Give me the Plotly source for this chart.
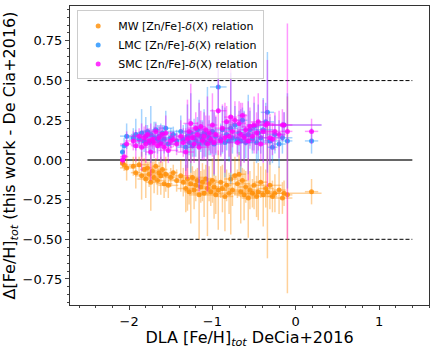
import plotly.graph_objects as go

# DLA [Fe/H]_tot (De Cia+2016) and its error, shared by the three relations
fe_h = [-2.08, -2.06, -2.03, -1.95, -1.92, -1.88, -1.85, -1.82, -1.80, -1.78,
        -1.76, -1.74, -1.72, -1.70, -1.68, -1.66, -1.64, -1.62, -1.60, -1.58,
        -1.56, -1.53, -1.50, -1.47, -1.43, -1.38, -1.35, -1.32, -1.30, -1.28,
        -1.26, -1.24, -1.22, -1.20, -1.18, -1.16, -1.14, -1.12, -1.10, -1.08,
        -1.06, -1.04, -1.02, -1.00, -0.98, -0.96, -0.93, -0.90, -0.88, -0.85,
        -0.83, -0.80, -0.78, -0.76, -0.73, -0.70, -0.68, -0.66, -0.64, -0.62,
        -0.60, -0.57, -0.55, -0.52, -0.50, -0.47, -0.45, -0.42, -0.39, -0.36,
        -0.34, -0.31, -0.28, -0.25, -0.20, -0.16, -0.14, -0.10, 0.19]
fe_h_err = [0.03, 0.05, 0.08, 0.10, 0.06, 0.12, 0.08, 0.05, 0.10, 0.07,
            0.15, 0.06, 0.09, 0.12, 0.05, 0.10, 0.08, 0.14, 0.06, 0.10,
            0.08, 0.12, 0.07, 0.05, 0.10, 0.15, 0.08, 0.10, 0.12, 0.06,
            0.09, 0.18, 0.07, 0.10, 0.08, 0.12, 0.06, 0.09, 0.20, 0.07,
            0.10, 0.08, 0.12, 0.06, 0.10, 0.08, 0.10, 0.07, 0.09, 0.10,
            0.06, 0.12, 0.08, 0.10, 0.07, 0.15, 0.08, 0.10, 0.06, 0.12,
            0.09, 0.08, 0.10, 0.14, 0.07, 0.20, 0.09, 0.08, 0.12, 0.10,
            0.08, 0.14, 0.06, 0.10, 0.08, 0.12, 0.45, 0.06, 0.08]

# Delta [Fe/H]_tot (this work - De Cia+2016)
mw = [-0.02, -0.03, -0.05, -0.04, -0.08, -0.03, -0.10, -0.06, -0.12, -0.05,
      -0.09, -0.14, -0.07, -0.11, -0.04, -0.13, -0.08, -0.10, -0.06, -0.15,
      -0.09, -0.16, -0.11, -0.08, -0.13, -0.10, -0.14, -0.18, -0.12, -0.20,
      -0.15, -0.11, -0.19, -0.16, -0.13, -0.22, -0.17, -0.14, -0.21, -0.12,
      -0.18, -0.15, -0.20, -0.13, -0.17, -0.22, -0.19, -0.14, -0.18, -0.23,
      -0.16, -0.21, -0.12, -0.19, -0.10, -0.15, -0.09, -0.20, -0.13, -0.22,
      -0.17, -0.24, -0.19, -0.21, -0.16, -0.23, -0.20, -0.14, -0.22, -0.18,
      -0.20, -0.16, -0.23, -0.21, -0.19, -0.24, -0.21, -0.22, -0.20]
mw_err = [0.03, 0.04, 0.08, 0.06, 0.10, 0.05, 0.15, 0.07, 0.12, 0.04,
          0.08, 0.18, 0.06, 0.10, 0.05, 0.09, 0.07, 0.12, 0.05, 0.09,
          0.11, 0.08, 0.06, 0.05, 0.07, 0.10, 0.09, 0.15, 0.20, 0.08,
          0.25, 0.07, 0.12, 0.10, 0.08, 0.28, 0.10, 0.12, 0.15, 0.09,
          0.30, 0.11, 0.09, 0.14, 0.20, 0.12, 0.25, 0.10, 0.15, 0.22,
          0.10, 0.13, 0.35, 0.10, 0.12, 0.09, 0.14, 0.20, 0.08, 0.16,
          0.10, 0.25, 0.12, 0.09, 0.15, 0.13, 0.18, 0.10, 0.20, 0.12,
          0.42, 0.15, 0.10, 0.12, 0.15, 0.10, 0.08, 0.62, 0.08]

lmc = [0.05, 0.09, 0.15, 0.14, 0.16, 0.13, 0.17, 0.12, 0.15, 0.18,
       0.11, 0.16, 0.12, 0.14, 0.19, 0.13, 0.15, 0.11, 0.17, 0.13,
       0.20, 0.10, 0.14, 0.16, 0.12, 0.18, 0.13, 0.08, 0.15, 0.11,
       0.17, 0.09, 0.14, 0.12, 0.19, 0.10, 0.15, 0.13, 0.17, 0.11,
       0.16, 0.14, 0.12, 0.18, 0.10, 0.15, 0.46, 0.13, 0.19, 0.11,
       0.16, 0.12, 0.20, 0.14, 0.22, 0.13, 0.17, 0.12, 0.25, 0.15,
       0.11, 0.16, 0.19, 0.13, 0.21, 0.11, 0.17, 0.14, 0.19, 0.24,
       0.30, 0.12, 0.08, 0.16, 0.10, 0.14, 0.22, 0.12, 0.12]
lmc_err = [0.03, 0.05, 0.08, 0.06, 0.10, 0.05, 0.15, 0.07, 0.12, 0.04,
           0.08, 0.18, 0.06, 0.10, 0.05, 0.09, 0.07, 0.12, 0.05, 0.09,
           0.11, 0.08, 0.06, 0.05, 0.07, 0.10, 0.09, 0.15, 0.20, 0.08,
           0.25, 0.07, 0.12, 0.10, 0.08, 0.28, 0.10, 0.12, 0.15, 0.09,
           0.30, 0.11, 0.09, 0.14, 0.20, 0.12, 0.17, 0.10, 0.15, 0.22,
           0.10, 0.13, 0.35, 0.10, 0.12, 0.09, 0.14, 0.20, 0.08, 0.16,
           0.10, 0.25, 0.12, 0.09, 0.15, 0.13, 0.18, 0.10, 0.20, 0.12,
           0.38, 0.15, 0.10, 0.12, 0.15, 0.10, 0.08, 0.30, 0.08]

smc = [0.00, 0.02, 0.10, 0.12, 0.09, 0.15, 0.08, 0.14, 0.10, 0.16,
       0.12, 0.05, 0.13, 0.11, 0.18, 0.09, 0.14, 0.10, 0.16, 0.08,
       0.17, 0.06, 0.12, 0.13, 0.10, 0.15, 0.11, 0.05, 0.13, 0.18,
       0.23, 0.14, 0.10, 0.20, 0.16, 0.08, 0.21, 0.12, 0.15, 0.19,
       0.10, 0.17, 0.13, 0.22, 0.11, 0.16, 0.31, 0.12, 0.20, 0.14,
       0.24, 0.15, 0.27, 0.18, 0.25, 0.11, 0.23, 0.16, 0.28, 0.14,
       0.19, 0.12, 0.21, 0.15, 0.22, 0.17, 0.24, 0.10, 0.18, 0.22,
       0.23, 0.14, 0.13, 0.18, 0.16, 0.22, 0.22, 0.18, 0.18]
smc_err = [0.03, 0.04, 0.08, 0.06, 0.10, 0.05, 0.15, 0.07, 0.12, 0.04,
           0.08, 0.18, 0.06, 0.10, 0.05, 0.09, 0.07, 0.12, 0.05, 0.09,
           0.11, 0.08, 0.06, 0.05, 0.07, 0.10, 0.09, 0.15, 0.25, 0.08,
           0.25, 0.07, 0.12, 0.10, 0.08, 0.28, 0.10, 0.12, 0.15, 0.09,
           0.30, 0.11, 0.09, 0.20, 0.20, 0.12, 0.28, 0.10, 0.15, 0.22,
           0.10, 0.13, 0.35, 0.10, 0.12, 0.09, 0.14, 0.20, 0.08, 0.16,
           0.10, 0.25, 0.12, 0.09, 0.18, 0.13, 0.18, 0.10, 0.20, 0.12,
           0.40, 0.15, 0.10, 0.12, 0.15, 0.10, 0.08, 0.68, 0.08]

series = [
    ("MW [Zn/Fe]-<i>δ</i>(X) relation", mw, mw_err, (255, 140, 0)),
    ("LMC [Zn/Fe]-<i>δ</i>(X) relation", lmc, lmc_err, (30, 144, 255)),
    ("SMC [Zn/Fe]-<i>δ</i>(X) relation", smc, smc_err, (255, 0, 255)),
]

# reference lines
ref_x = [-2.5, 1.4]
ref_solid = [0.0]
ref_dashed = [0.5, -0.5]

fig = go.Figure()

for yv in ref_solid:
    fig.add_trace(go.Scatter(x=ref_x, y=[yv, yv], mode="lines", showlegend=False,
                             line=dict(color="#333333", width=1.5), hoverinfo="skip"))
for yv in ref_dashed:
    fig.add_trace(go.Scatter(x=ref_x, y=[yv, yv], mode="lines", showlegend=False,
                             line=dict(color="black", width=1, dash="4px,2px"), hoverinfo="skip"))

for name, yy, ee, (r, g, b) in series:
    err_col = "rgba({},{},{},0.4)".format(r, g, b)
    fig.add_trace(go.Scatter(
        x=fe_h, y=yy, mode="markers", name=name,
        marker=dict(size=5, color="rgba({},{},{},0.8)".format(r, g, b), line=dict(width=0)),
        error_x=dict(type="data", array=fe_h_err, color=err_col, thickness=1.5, width=0),
        error_y=dict(type="data", array=ee, color=err_col, thickness=1.5, width=0),
    ))

fig.update_layout(
    width=436, height=349,
    margin=dict(l=70, r=7, t=6, b=44),
    paper_bgcolor="white", plot_bgcolor="white",
    font=dict(family="DejaVu Sans", size=13, color="black"),
    legend=dict(x=0.02, y=0.985, xanchor="left", yanchor="top",
                bgcolor="rgba(255,255,255,0.8)", bordercolor="#cccccc", borderwidth=1,
                font=dict(size=11), tracegroupgap=0),
)

fig.update_xaxes(range=[-2.71, 1.60], tickvals=[-2, -1, 0, 1], ticks="outside", ticklen=4,
                 showline=True, mirror=True, linecolor="#333333", linewidth=1,
                 showgrid=False, zeroline=False, automargin=False,
                 minor=dict(dtick=0.2, tick0=0, ticks="outside", ticklen=2, showgrid=False),
                 title=dict(text="DLA [Fe/H]<sub><i>tot</i></sub> DeCia+2016", standoff=2))
fig.update_yaxes(range=[-0.914, 0.97], dtick=0.25, tick0=0, tickformat=".2f",
                 ticks="outside", ticklen=4,
                 showline=True, mirror=True, linecolor="#333333", linewidth=1,
                 showgrid=False, zeroline=False, automargin=False,
                 minor=dict(dtick=0.05, tick0=0, ticks="outside", ticklen=2, showgrid=False),
                 title=dict(text="Δ[Fe/H]<sub><i>tot</i></sub> (this work - De Cia+2016)", standoff=4))

fig.write_html("out.html", config={"displayModeBar": False},
               post_script="document.body.style.margin='0';")
